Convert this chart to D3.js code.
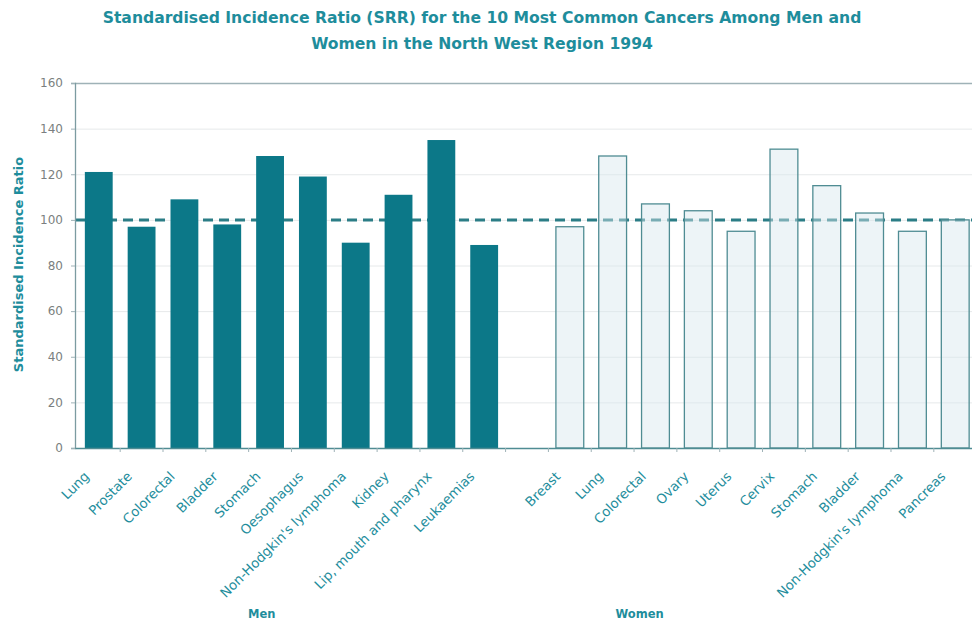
<!DOCTYPE html>
<html>
<head>
<meta charset="utf-8">
<script src="https://cdn.jsdelivr.net/npm/d3@7"></script>
<style>
  body { margin: 0; background: #fff; }
  text { font-family: "DejaVu Sans", Verdana, sans-serif; }
</style>
</head>
<body>
<svg class="chart"></svg>
<script>
// SIR values
var menCancers = ['Lung', 'Prostate', 'Colorectal', 'Bladder', 'Stomach', 'Oesophagus',
	"Non-Hodgkin's lymphoma", 'Kidney', 'Lip, mouth and pharynx', 'Leukaemias'];
var menValues = [121, 97, 109, 98, 128, 119, 90, 111, 135, 89];

var womenCancers = ['Breast', 'Lung', 'Colorectal', 'Ovary', 'Uterus', 'Cervix',
	'Stomach', 'Bladder', "Non-Hodgkin's lymphoma", 'Pancreas'];
var womenValues = [97, 128, 107, 104, 95, 131, 115, 103, 95, 100];

var yTicks = [0, 20, 40, 60, 80, 100, 120, 140, 160];
var baseline = 100;

var margin = {top: 83, right: -7, bottom: 173, left: 75},
	width = 972 - margin.left - margin.right,
	height = 621 - margin.top - margin.bottom;

var teal = '#0c7888', textTeal = '#1e8d9c', font = '"DejaVu Sans", Verdana, sans-serif';

// one key per slot, with an empty slot between men and women
var data = menCancers.map(function(c, i) { return {key: 'm' + i, name: c, value: menValues[i], group: 'men'}; })
	.concat([{key: 'gap', name: '', value: null, group: 'gap'}])
	.concat(womenCancers.map(function(c, i) { return {key: 'w' + i, name: c, value: womenValues[i], group: 'women'}; }));

var chart = d3.select('.chart')
	.attr('width', 972)
	.attr('height', 621);

var x = d3.scaleBand().domain(data.map(function(d) { return d.key; }))
	.range([0, width]).paddingInner(0.35).paddingOuter(0.23),
	y = d3.scaleLinear().domain([0, 160]).range([height, 0]);

var g = chart.append('g')
	.attr('transform', 'translate(' + margin.left + ',' + margin.top + ')');

// title
chart.append('text')
	.attr('x', 482).attr('y', 23)
	.attr('text-anchor', 'middle')
	.attr('font-weight', 'bold').attr('font-size', 15.6)
	.attr('fill', textTeal)
	.text('Standardised Incidence Ratio (SRR) for the 10 Most Common Cancers Among Men and');
chart.append('text')
	.attr('x', 482).attr('y', 49)
	.attr('text-anchor', 'middle')
	.attr('font-weight', 'bold').attr('font-size', 15.6)
	.attr('fill', textTeal)
	.text('Women in the North West Region 1994');

// gridlines
g.append('g')
	.attr('class', 'grid')
	.call(d3.axisLeft(y).tickValues(yTicks).tickSize(-width).tickFormat(''))
	.call(function(s) {
		s.select('.domain').remove();
		s.selectAll('.tick line').attr('stroke', '#e6e9ea').attr('stroke-width', 1);
		s.selectAll('.tick').filter(function(d) { return d === 160; }).select('line')
			.attr('stroke', '#9fb2b7').attr('stroke-width', 1.5);
	});

// reference line at 100, behind the bars
g.append('line')
	.attr('x1', 0).attr('x2', width)
	.attr('y1', y(baseline)).attr('y2', y(baseline))
	.attr('stroke', '#2b7d86').attr('stroke-width', 3)
	.attr('stroke-dasharray', '10,6');

// bars
g.selectAll('.bar')
	.data(data.filter(function(d) { return d.value !== null; }))
  .enter().append('rect')
	.attr('class', 'bar')
	.attr('x', function(d) { return x(d.key); })
	.attr('y', function(d) { return y(d.value); })
	.attr('width', x.bandwidth())
	.attr('height', function(d) { return height - y(d.value); })
	.attr('fill', function(d) { return d.group === 'men' ? teal : '#d8e6ee'; })
	.attr('fill-opacity', function(d) { return d.group === 'men' ? 1 : 0.45; })
	.attr('stroke', function(d) { return d.group === 'men' ? 'none' : '#4f8c93'; })
	.attr('stroke-width', 1.3);

// y axis
g.append('g')
	.attr('class', 'axis')
	.call(d3.axisLeft(y).tickValues(yTicks).tickSize(4).tickPadding(8))
	.call(function(s) {
		s.select('.domain').attr('stroke', '#7c9ba1').attr('stroke-width', 1.3);
		s.selectAll('.tick line').attr('stroke', '#9fb2b7');
		s.selectAll('.tick text').attr('fill', '#7b7f80').attr('font-size', 12)
			.style('font-family', font);
	});

// x axis
var step = x.step();
g.append('g')
	.attr('class', 'axis')
	.attr('transform', 'translate(0,' + height + ')')
	.call(d3.axisBottom(x).tickSize(0).tickFormat(function(k) {
		var d = data.find(function(e) { return e.key === k; });
		return d.name;
	}))
	.call(function(s) {
		s.select('.domain').attr('stroke', '#4f8c93').attr('stroke-width', 1.5);
		s.selectAll('.tick text')
			.attr('fill', textTeal).attr('font-size', 13.3)
			.style('font-family', font)
			.attr('text-anchor', 'end')
			.attr('transform', 'translate(-12,26) rotate(-45)')
			.attr('x', 0).attr('y', 0).attr('dy', '0.35em');
		// small separators between categories
		s.selectAll('.tick').append('line')
			.attr('x1', step / 2).attr('x2', step / 2)
			.attr('y1', 0).attr('y2', 4)
			.attr('stroke', '#9fb2b7');
	});

// group labels
g.append('text')
	.attr('x', x('m4') + x.bandwidth() * 0.2).attr('y', height + 170)
	.attr('text-anchor', 'middle')
	.attr('font-weight', 'bold').attr('font-size', 11.5).attr('fill', textTeal)
	.text('Men');
g.append('text')
	.attr('x', x('w2') - 2).attr('y', height + 170)
	.attr('text-anchor', 'middle')
	.attr('font-weight', 'bold').attr('font-size', 11.5).attr('fill', textTeal)
	.text('Women');

// y axis title
chart.append('text')
	.attr('transform', 'translate(23,' + (margin.top + height / 2 - 1) + ') rotate(-90)')
	.attr('text-anchor', 'middle')
	.attr('font-weight', 'bold').attr('font-size', 13).attr('fill', textTeal)
	.text('Standardised Incidence Ratio');
</script>
</body>
</html>
